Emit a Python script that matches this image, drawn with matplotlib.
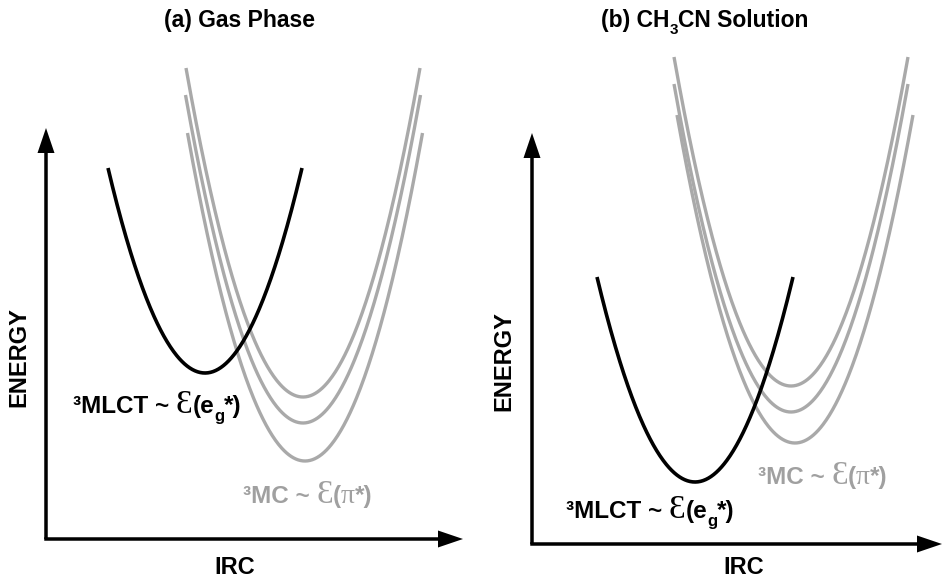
import numpy as np
import matplotlib
matplotlib.use("Agg")
import matplotlib.pyplot as plt
from matplotlib.transforms import offset_copy

plt.rcParams['font.family'] = ['Liberation Sans', 'DejaVu Sans']

# Panel layout in canvas pixels (x right, y down)
title_x = [240, 705]
title_y = 27
axis_origin_x = [46, 532]
axis_origin_y = [539, 544]
energy_tip_y = [128, 133]
irc_tip_x = [463, 942]
energy_label_x = [19, 504]
energy_label_y = [357, 361]
irc_label_x = [235, 744]
irc_label_y = [567, 568]

# 3MLCT well: minimum position, half width and depth of the drawn branch
mlct_min_x = [205, 695]
mlct_min_y = [373, 482]
mlct_half_width = [97, 98]
mlct_depth = [205, 205]

# 3MC wells (three per panel)
mc_min_x = [[303, 303, 305], [791, 791, 795]]
mc_min_y = [[397, 423, 461], [386, 412, 443]]
mc_half_width = [[117, 117.5, 117.5], [117, 117, 118]]
mc_depth = [[329, 328, 328], [329, 328, 328]]

# State labels (left edge, baseline)
mlct_label_pos = [(73, 413), (566, 518)]
mc_label_pos = [(243, 503), (758, 484)]

GRAY = '#a9a9a9'
LABEL_GRAY = '#a0a0a0'

fig = plt.figure(figsize=(9.42, 5.8), dpi=100)
ax = fig.add_axes([0, 0, 1, 1])
ax.set_xlim(0, 942)
ax.set_ylim(580, 0)
ax.axis('off')
renderer = fig.canvas.get_renderer()

sans = ['Liberation Sans', 'DejaVu Sans']
serif = ['Liberation Serif', 'DejaVu Serif']


def well(x0, y0, hw, depth):
    x = np.linspace(x0 - hw, x0 + hw, 300)
    return x, y0 - depth * ((x - x0) / hw) ** 2


def draw_pieces(x, y, pieces, color, center=False):
    # pieces: (text, size, weight, family, dy in px); laid out on a shared baseline
    texts = []
    dx = 0.0
    for s, size, weight, family, dy in pieces:
        tr = offset_copy(ax.transData, fig=fig, x=dx, y=dy, units='dots')
        t = ax.text(x, y, s, transform=tr, fontsize=size, fontweight=weight,
                    family=family, color=color, ha='left', va='baseline')
        texts.append((t, dx, dy))
        dx += t.get_window_extent(renderer).width
    if center:
        for t, ddx, dy in texts:
            t.set_transform(offset_copy(ax.transData, fig=fig, x=ddx - dx / 2, y=dy,
                                        units='dots'))


titles = [
    [("(a) Gas Phase", 16.5, 'bold', sans, 0)],
    [("(b) CH", 16.5, 'bold', sans, 0), ("3", 11, 'bold', sans, -7),
     ("CN Solution", 16.5, 'bold', sans, 0)],
]

for i in range(2):
    ox, oy = axis_origin_x[i], axis_origin_y[i]
    ax.arrow(ox, oy, 0, energy_tip_y[i] - oy, width=3.5, head_width=17, head_length=25,
             length_includes_head=True, color='black', lw=0)
    ax.arrow(ox - 1.75, oy, irc_tip_x[i] - ox + 1.75, 0, width=3.5, head_width=17,
             head_length=25, length_includes_head=True, color='black', lw=0)

    draw_pieces(title_x[i], title_y, titles[i], 'black', center=True)
    ax.text(energy_label_x[i], energy_label_y[i], 'ENERGY', fontsize=17, fontweight='bold',
            rotation=90, ha='center', va='center')
    ax.text(irc_label_x[i], irc_label_y[i], 'IRC', fontsize=17, fontweight='bold',
            ha='center', va='center')

    for j in range(3):
        x, y = well(mc_min_x[i][j], mc_min_y[i][j], mc_half_width[i][j], mc_depth[i][j])
        ax.plot(x, y, color=GRAY, lw=2.4, solid_capstyle='butt')

    x, y = well(mlct_min_x[i], mlct_min_y[i], mlct_half_width[i], mlct_depth[i])
    ax.plot(x, y, color='black', lw=2.6, solid_capstyle='butt')

    draw_pieces(*mlct_label_pos[i], [
        ("³MLCT ~ ", 17.5, 'bold', sans, 0),
        ("Ɛ", 24, 'normal', serif, 0),
        ("(e", 17.5, 'bold', sans, 0),
        ("g", 12, 'bold', sans, -8),
        ("*)", 17.5, 'bold', sans, 0),
    ], 'black')
    draw_pieces(*mc_label_pos[i], [
        ("³MC ~ ", 17.5, 'bold', sans, 0),
        ("Ɛ", 24, 'normal', serif, 0),
        ("(", 17.5, 'bold', sans, 0),
        ("π", 20, 'normal', serif, 0),
        ("*)", 17.5, 'bold', sans, 0),
    ], LABEL_GRAY)

fig.savefig('out.png', dpi=100)
